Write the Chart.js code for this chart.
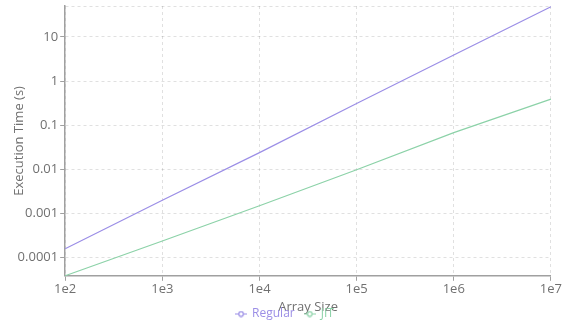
<!DOCTYPE html>
<html>
<head>
<meta charset="utf-8">
<script src="https://cdn.jsdelivr.net/npm/chart.js@4/dist/chart.umd.min.js"></script>
<style>
  html, body { margin: 0; padding: 0; background: #fff; }
  #wrap { width: 563px; height: 323px; }
</style>
</head>
<body>
<div id="wrap"><canvas id="perfChart" width="563" height="323"></canvas></div>
<script>
// Array sizes (one point per decade) and measured execution times in seconds
const sizes = ["1e2", "1e3", "1e4", "1e5", "1e6", "1e7"];
const regularTimes = [0.00016, 0.002, 0.024, 0.31, 3.9, 48];
const jitTimes = [0.000039, 0.00024, 0.0015, 0.0098, 0.068, 0.39];

const regularColor = "rgb(155, 142, 230)";
const jitColor = "rgb(140, 210, 168)";
const gridColor = "rgba(0, 0, 0, 0.12)";
const axisColor = "#a0a0a0";
const textColor = "#707070";

Chart.defaults.font.family = "'Open Sans', 'Noto Sans', sans-serif";
Chart.defaults.font.size = 13;
Chart.defaults.color = textColor;

// small "-o-" marker used in the legend
function legendMarker(color) {
  const c = document.createElement("canvas");
  c.width = 12;
  c.height = 7;
  const g = c.getContext("2d");
  g.strokeStyle = color;
  g.lineWidth = 1.2;
  g.beginPath();
  g.moveTo(0, 3.5); g.lineTo(3.5, 3.5);
  g.moveTo(8.5, 3.5); g.lineTo(12, 3.5);
  g.stroke();
  g.beginPath();
  g.arc(6, 3.5, 2.3, 0, Math.PI * 2);
  g.stroke();
  return c;
}

function isDecade(v) {
  const e = Math.log10(v);
  return Math.abs(e - Math.round(e)) < 1e-9;
}

const ctx = document.getElementById("perfChart").getContext("2d");
const perfChart = new Chart(ctx, {
  type: "line",
  data: {
    labels: sizes,
    datasets: [
      {
        label: "Regular",
        data: regularTimes,
        borderColor: regularColor,
        backgroundColor: regularColor,
        borderWidth: 1.2,
        pointRadius: 0,
        tension: 0,
      },
      {
        label: "JIT",
        data: jitTimes,
        borderColor: jitColor,
        backgroundColor: jitColor,
        borderWidth: 1.2,
        pointRadius: 0,
        tension: 0,
      },
    ],
  },
  options: {
    responsive: false,
    animation: false,
    layout: { padding: { top: 6, right: 4, left: 11, bottom: -7 } },
    plugins: {
      tooltip: { enabled: false },
      legend: {
        position: "bottom",
        labels: {
          usePointStyle: true,
          pointStyleWidth: 10,
          padding: 10,
          font: { size: 12 },
          generateLabels(chart) {
            return chart.data.datasets.map((ds, i) => ({
              text: ds.label,
              fontColor: ds.borderColor,
              pointStyle: legendMarker(ds.borderColor),
              datasetIndex: i,
              hidden: false,
              lineWidth: 0,
            }));
          },
        },
      },
    },
    scales: {
      x: {
        offset: false,
        grid: { color: gridColor, tickColor: axisColor, tickLength: 5 },
        border: { color: axisColor, width: 1.5, dash: [3, 3] },
        ticks: { color: textColor, padding: 1, maxRotation: 0 },
        title: {
          display: true,
          text: "Array Size",
          color: textColor,
          padding: { top: 1, bottom: -17 },
        },
      },
      y: {
        type: "logarithmic",
        grid: {
          color: gridColor,
          tickColor: c => (c.tick && isDecade(c.tick.value) ? axisColor : "rgba(0,0,0,0)"),
          tickLength: 5,
        },
        border: { color: axisColor, width: 1.5, dash: [3, 3] },
        afterBuildTicks(scale) {
          const max = scale.max;
          scale.ticks = scale.ticks.filter(t => isDecade(t.value) || t.value === max);
        },
        ticks: {
          color: textColor,
          padding: 2,
          autoSkip: false,
          // the top (max) tick only carries a grid line, keep its label box tiny
          font: c => (c.tick && !isDecade(c.tick.value) ? { size: 1 } : { size: 13 }),
          callback(value) {
            if (!isDecade(value)) return "";
            return String(Number(value.toPrecision(1)));
          },
        },
        title: {
          display: true,
          text: "Execution Time (s)",
          color: textColor,
          padding: { top: 0, bottom: -11 },
        },
      },
    },
  },
});
</script>
</body>
</html>
